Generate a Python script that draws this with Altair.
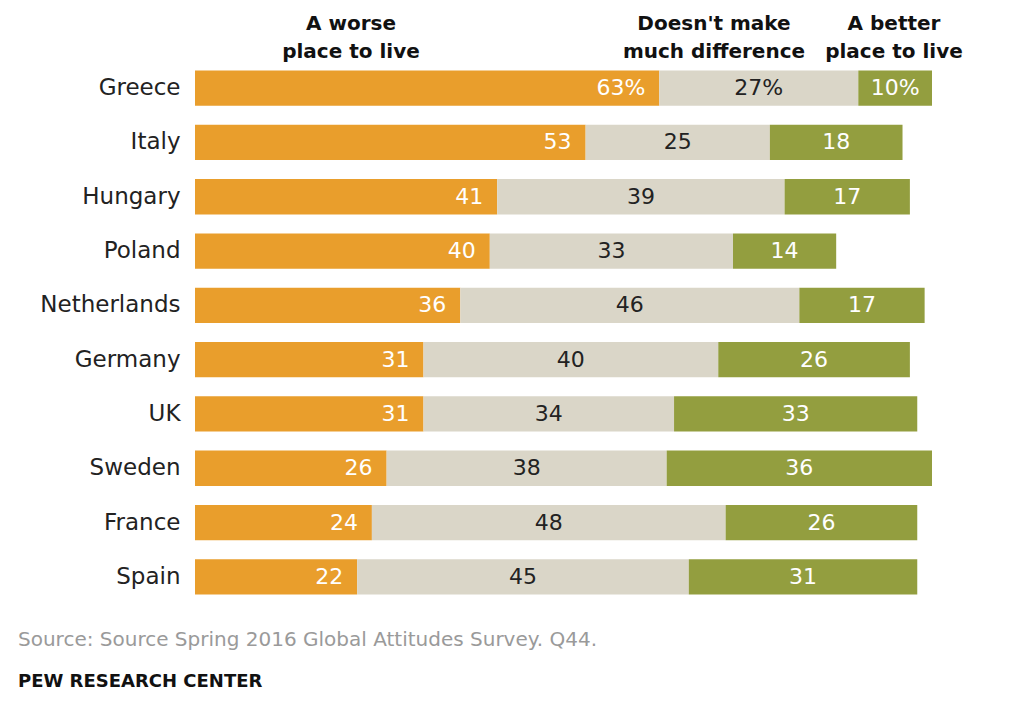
import altair as alt
import pandas as pd

countries = ["Greece", "Italy", "Hungary", "Poland", "Netherlands",
             "Germany", "UK", "Sweden", "France", "Spain"]
worse = [63, 53, 41, 40, 36, 31, 31, 26, 24, 22]
neutral = [27, 25, 39, 33, 46, 40, 34, 38, 48, 45]
better = [10, 18, 17, 14, 17, 26, 33, 36, 26, 31]
categories = ["A worse place to live", "Doesn't make much difference", "A better place to live"]
header_lines = [["A worse", "place to live"], ["Doesn't make", "much difference"], ["A better", "place to live"]]
colors = ["#E99E2C", "#DAD6C8", "#939E3F"]
source_text = "Source: Source Spring 2016 Global Attitudes Survey. Q44."
footer_text = "PEW RESEARCH CENTER"

FONT = "DejaVu Sans"

rows = []
for i, c in enumerate(countries):
    start = 0
    for k, (cat, v) in enumerate(zip(categories, [worse[i], neutral[i], better[i]])):
        label = f"{v}%" if i == 0 else str(v)
        rows.append(dict(country=c, category=cat, value=v, start=start, end=start + v,
                         mid=start + v / 2, label=label, order=k))
        start += v
df = pd.DataFrame(rows)

yenc = alt.Y("country:N", sort=countries,
             scale=alt.Scale(paddingInner=0.35, paddingOuter=0.175),
             axis=alt.Axis(title=None, domain=False, ticks=False, labelFontSize=23,
                           labelFont=FONT, labelColor="#222222", labelPadding=15))
xscale = alt.Scale(domain=[0, 100], nice=False, zero=True)

base = alt.Chart(df).encode(y=yenc)

bars = base.mark_bar().encode(
    x=alt.X("start:Q", scale=xscale, axis=None),
    x2="end:Q",
    color=alt.Color("category:N", scale=alt.Scale(domain=categories, range=colors), legend=None),
)

lab_worse = base.transform_filter("datum.order == 0").mark_text(
    align="right", baseline="middle", dx=-14, color="white", fontSize=22, font=FONT
).encode(x=alt.X("end:Q", scale=xscale), text="label:N")

lab_neutral = base.transform_filter("datum.order == 1").mark_text(
    align="center", baseline="middle", color="#222222", fontSize=22, font=FONT
).encode(x=alt.X("mid:Q", scale=xscale), text="label:N")

lab_better = base.transform_filter("datum.order == 2").mark_text(
    align="center", baseline="middle", color="white", fontSize=22, font=FONT
).encode(x=alt.X("mid:Q", scale=xscale), text="label:N")

one = pd.DataFrame({"a": [0]})
header_x = [156, 519, 699]
headers = []
for lines, hx in zip(header_lines, header_x):
    headers.append(
        alt.Chart(one).mark_text(
            text=lines, align="center", baseline="alphabetic", fontSize=20,
            fontWeight="bold", font=FONT, color="#111111", lineHeight=28
        ).encode(x=alt.value(hx), y=alt.value(-31))
    )

source = alt.Chart(one).mark_text(
    text=source_text, align="left", baseline="alphabetic", fontSize=20, font=FONT, color="#9a9a9a"
).encode(x=alt.value(-177), y=alt.value(585))

footer = alt.Chart(one).mark_text(
    text=footer_text, align="left", baseline="alphabetic", fontSize=18, font=FONT,
    fontWeight="bold", color="#111111"
).encode(x=alt.value(-177), y=alt.value(626))

chart = alt.layer(bars, lab_worse, lab_neutral, lab_better, *headers, source, footer).properties(
    width=737, height=543,
    padding={"left": 195, "top": 61, "right": 92, "bottom": 101},
    autosize="none",
    background="white",
).configure_view(stroke=None)

chart.save("out.html", embed_options={"renderer": "svg", "actions": False})
